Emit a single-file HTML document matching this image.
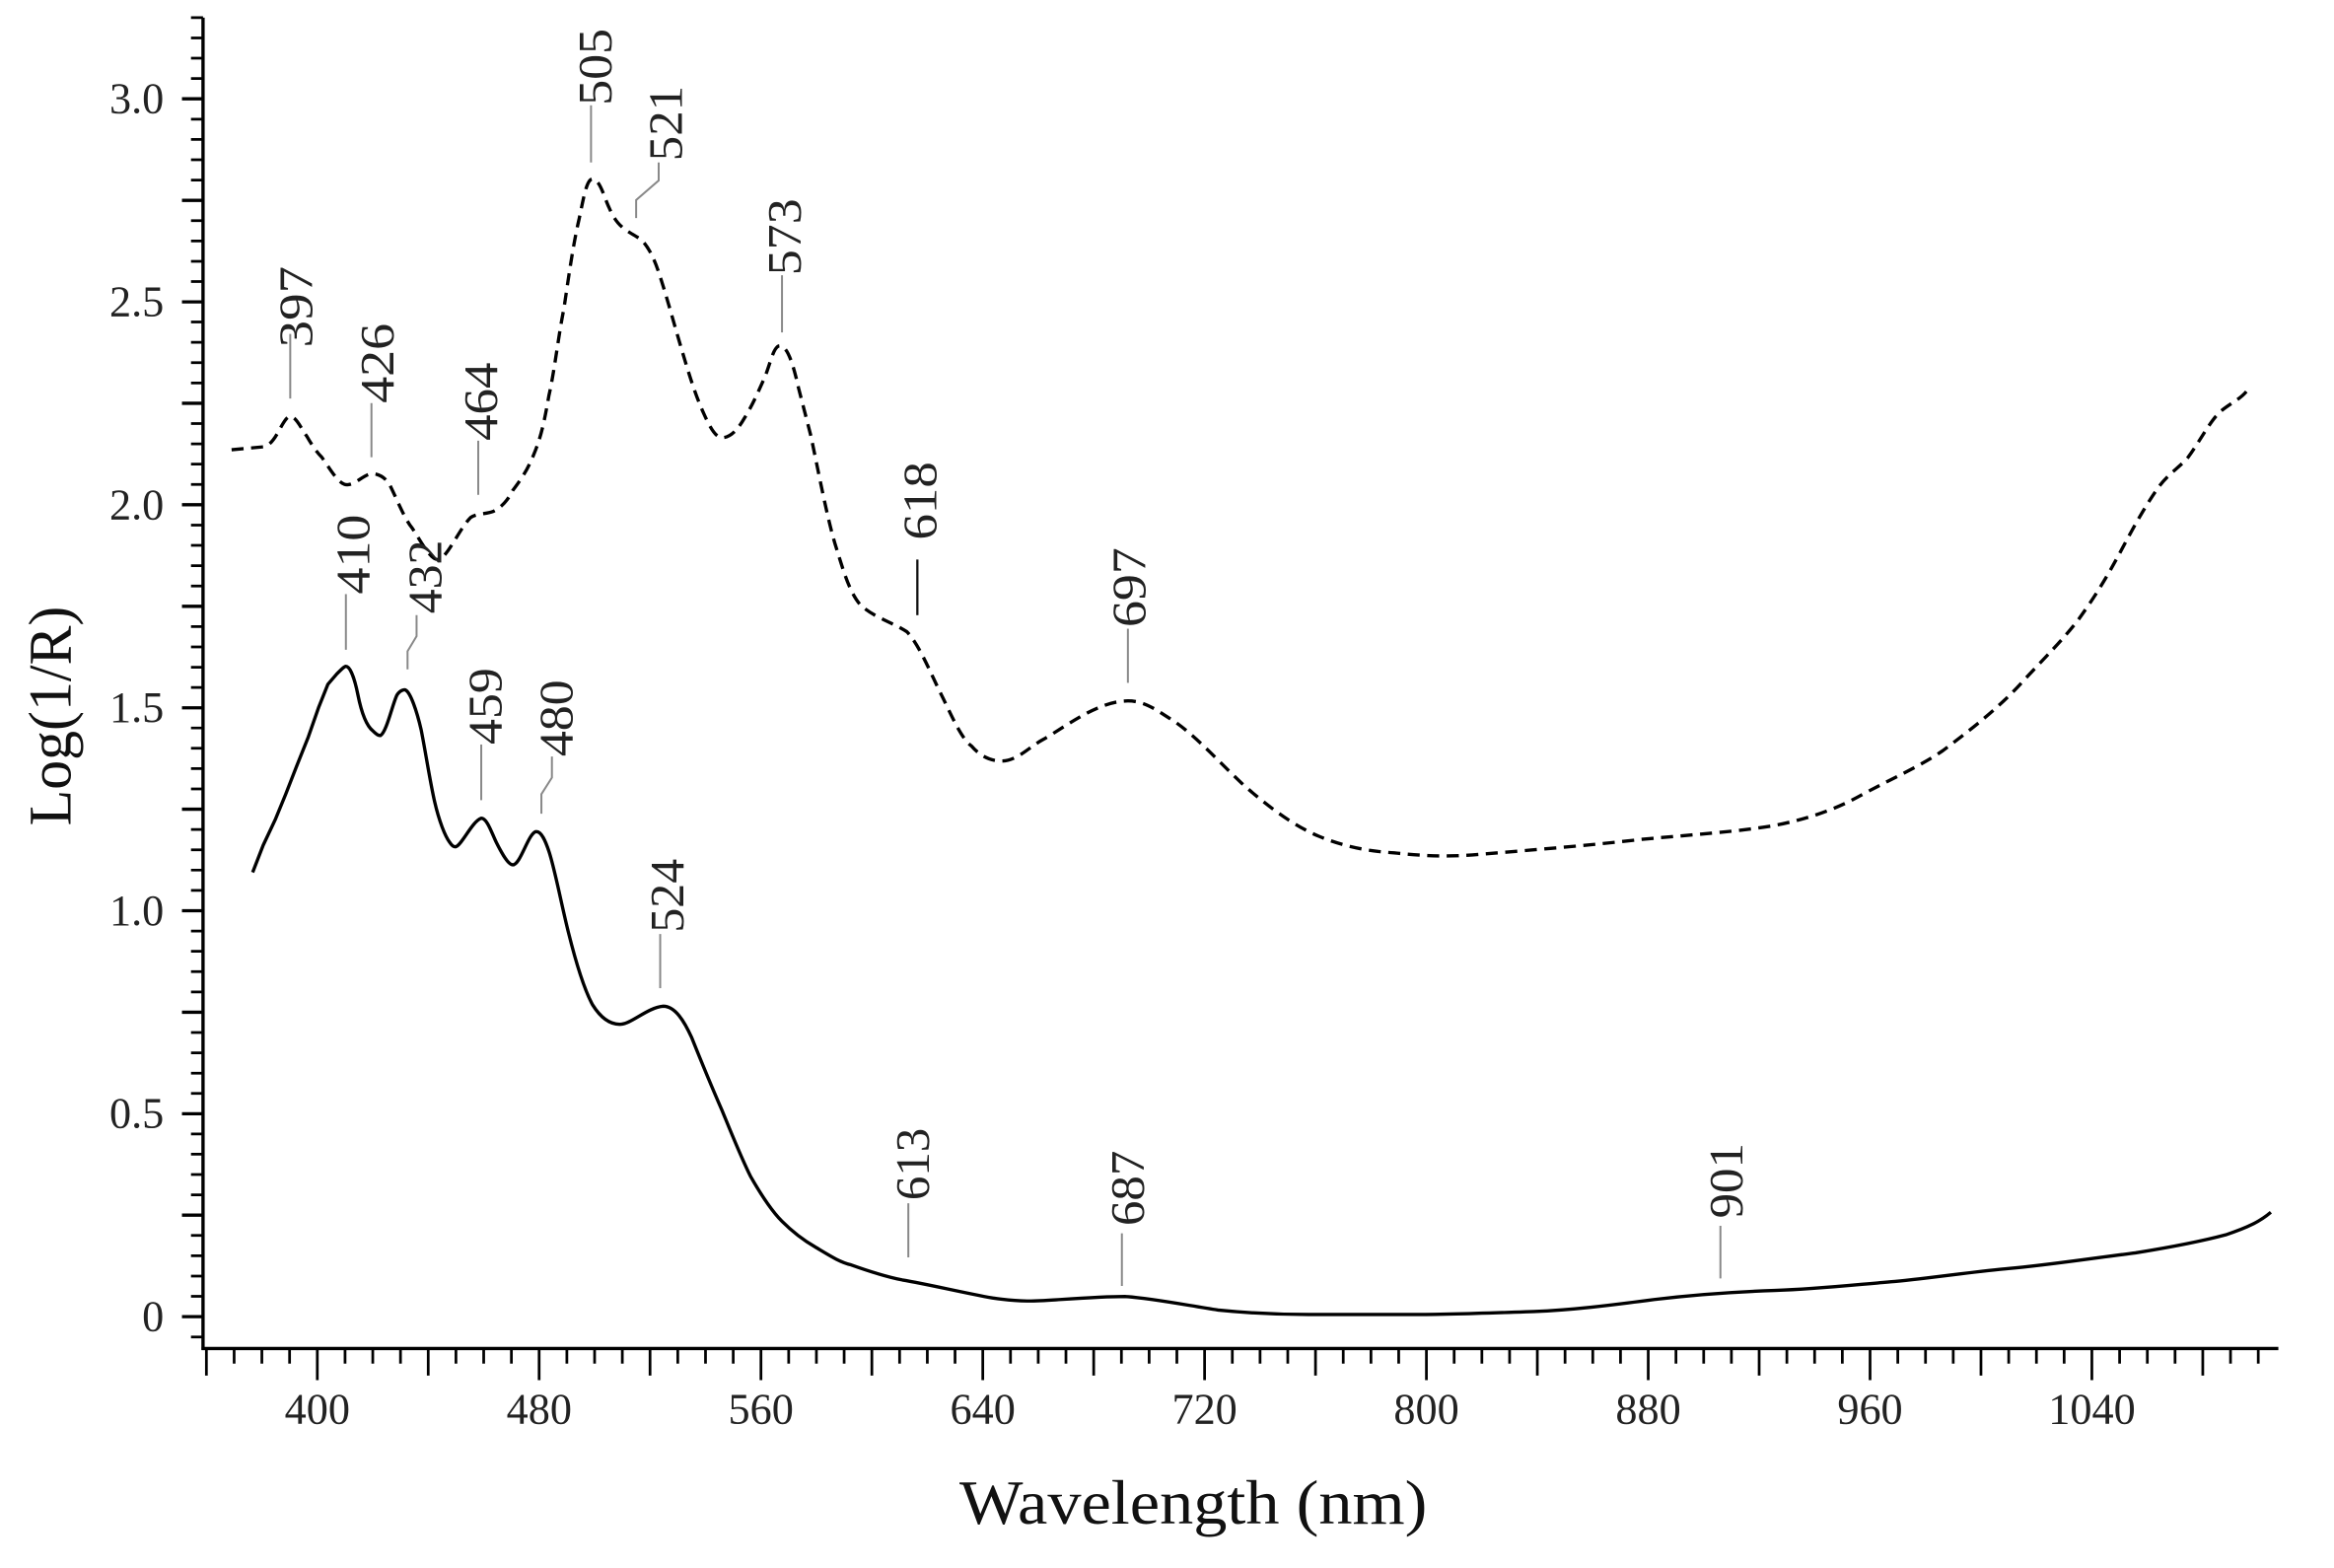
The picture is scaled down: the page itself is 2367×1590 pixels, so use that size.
<!DOCTYPE html>
<html><head><meta charset="utf-8"><style>html,body{margin:0;padding:0;background:#fff}svg{display:block}</style></head><body>
<svg width="2367" height="1590" viewBox="0 0 1552 1042.5" xmlns="http://www.w3.org/2000/svg" font-family="Liberation Serif, serif">
<rect width="1552" height="1042.5" fill="#fff"/>
<g stroke="#000" stroke-width="1.8" fill="none">
<path d="M137.25,896.6V914.6 M155.69,896.6V906.6 M174.13,896.6V906.6 M192.56,896.6V906.6 M211,896.6V917.6 M229.44,896.6V906.6 M247.88,896.6V906.6 M266.31,896.6V906.6 M284.75,896.6V914.6 M303.19,896.6V906.6 M321.63,896.6V906.6 M340.06,896.6V906.6 M358.5,896.6V917.6 M376.94,896.6V906.6 M395.38,896.6V906.6 M413.81,896.6V906.6 M432.25,896.6V914.6 M450.69,896.6V906.6 M469.13,896.6V906.6 M487.56,896.6V906.6 M506,896.6V917.6 M524.44,896.6V906.6 M542.88,896.6V906.6 M561.31,896.6V906.6 M579.75,896.6V914.6 M598.19,896.6V906.6 M616.63,896.6V906.6 M635.06,896.6V906.6 M653.5,896.6V917.6 M671.94,896.6V906.6 M690.38,896.6V906.6 M708.81,896.6V906.6 M727.25,896.6V914.6 M745.69,896.6V906.6 M764.13,896.6V906.6 M782.56,896.6V906.6 M801,896.6V917.6 M819.44,896.6V906.6 M837.88,896.6V906.6 M856.31,896.6V906.6 M874.75,896.6V914.6 M893.19,896.6V906.6 M911.63,896.6V906.6 M930.06,896.6V906.6 M948.5,896.6V917.6 M966.94,896.6V906.6 M985.38,896.6V906.6 M1003.81,896.6V906.6 M1022.25,896.6V914.6 M1040.69,896.6V906.6 M1059.13,896.6V906.6 M1077.56,896.6V906.6 M1096,896.6V917.6 M1114.44,896.6V906.6 M1132.88,896.6V906.6 M1151.31,896.6V906.6 M1169.75,896.6V914.6 M1188.19,896.6V906.6 M1206.63,896.6V906.6 M1225.06,896.6V906.6 M1243.5,896.6V917.6 M1261.94,896.6V906.6 M1280.38,896.6V906.6 M1298.81,896.6V906.6 M1317.25,896.6V914.6 M1335.69,896.6V906.6 M1354.13,896.6V906.6 M1372.56,896.6V906.6 M1391,896.6V917.6 M1409.44,896.6V906.6 M1427.88,896.6V906.6 M1446.31,896.6V906.6 M1464.75,896.6V914.6 M1483.19,896.6V906.6 M1501.63,896.6V906.6"/>
<path d="M127,888.9H135 M127,861.9H135 M127,848.4H135 M127,834.9H135 M127,821.4H135 M127,794.4H135 M127,780.9H135 M127,767.4H135 M127,753.9H135 M127,727H135 M127,713.5H135 M127,700H135 M127,686.5H135 M127,659.5H135 M127,646H135 M127,632.5H135 M127,619H135 M127,592H135 M127,578.5H135 M127,565H135 M127,551.5H135 M127,524.5H135 M127,511H135 M127,497.5H135 M127,484H135 M127,457.1H135 M127,443.6H135 M127,430.1H135 M127,416.6H135 M127,389.6H135 M127,376.1H135 M127,362.6H135 M127,349.1H135 M127,322.1H135 M127,308.6H135 M127,295.1H135 M127,281.6H135 M127,254.6H135 M127,241.1H135 M127,227.6H135 M127,214.1H135 M127,187.2H135 M127,173.7H135 M127,160.2H135 M127,146.7H135 M127,119.7H135 M127,106.2H135 M127,92.7H135 M127,79.2H135 M127,52.2H135 M127,38.7H135 M127,25.2H135 M127,11.7H135"/>
<path stroke-width="2.2" d="M121,875.4H135 M121,807.9H135 M121,740.5H135 M121,673H135 M121,605.5H135 M121,538H135 M121,470.6H135 M121,403.1H135 M121,335.6H135 M121,268.1H135 M121,200.7H135 M121,133.2H135 M121,65.7H135"/>
</g>
<line x1="135" y1="11.7" x2="135" y2="897.5" stroke="#000" stroke-width="2.2"/>
<line x1="134" y1="896.6" x2="1515" y2="896.6" stroke="#000" stroke-width="2.2"/>
<g font-size="29" text-anchor="end" dominant-baseline="central" fill="#222">
<text x="109" y="65.7">3.0</text><text x="109" y="200.7">2.5</text><text x="109" y="335.6">2.0</text><text x="109" y="470.5">1.5</text><text x="109" y="605.5">1.0</text><text x="109" y="740.4">0.5</text><text x="109" y="875.4">0</text>
</g>
<g font-size="29" text-anchor="middle" dominant-baseline="central" fill="#222">
<text x="211" y="937">400</text><text x="358.5" y="937">480</text><text x="506" y="937">560</text><text x="653.5" y="937">640</text><text x="801" y="937">720</text><text x="948.5" y="937">800</text><text x="1096" y="937">880</text><text x="1243.5" y="937">960</text><text x="1391" y="937">1040</text>
</g>
<text x="638" y="1013" font-size="42" textLength="311" lengthAdjust="spacingAndGlyphs" fill="#111">Wavelength (nm)</text>
<text transform="translate(47,549) rotate(-90)" font-size="40" textLength="146" lengthAdjust="spacingAndGlyphs" fill="#111">Log(1/R)</text>

<path fill="none" stroke="#000" stroke-width="2.2" stroke-dasharray="8,5" stroke-linejoin="round" d="M154,299 L176,297 C184,294 187,280 192,277 C197,276 200,285 204,290 C208,297 211,301 214,304 C219,311 224,320 229,322 C236,324 242,314 249,315 C254,316 256,318 259,322 C264,332 269,345 274,351 C280,360 286,372 291,372 C297,372 305,352 313,344 C318,341 323,342 328,340 C334,337 338,332 341,326 C347,318 351,312 355,302 C360,290 362,280 365,263 C369,245 371,225 375,205 C378,185 381,163 385,146 C388,132 390,119 394,119 C399,119 402,132 405,138 C408,145 411,149 415,152 C420,156 424,157 428,161 C432,166 435,172 438,181 C443,196 447,211 452,228 C457,245 462,262 468,275 C472,284 476,291 480,291 C486,291 491,285 495,278 C500,270 504,261 508,252 C512,243 514,231 518,230 C523,229 527,240 531,258 L539,289 C544,312 550,345 556,364 C561,380 565,394 572,402 C580,410 594,414 603,420 C611,428 619,448 626,462 C632,474 639,491 646,496 C652,503 659,506 666,506 C676,506 684,497 693,492 C709,483 730,466 750,466 C762,466 770,473 780,479 C795,489 812,508 827,522 C843,536 860,549 877,556 C894,563 910,566 927,567 C945,569 963,570 984,568 C1020,565 1058,562 1092,558 C1125,555 1155,553 1179,549 C1200,545 1219,539 1237,529 C1257,518 1276,510 1292,499 C1312,484 1331,469 1346,452 C1360,437 1372,425 1382,412 C1395,394 1403,380 1411,365 C1420,348 1428,334 1436,323 C1443,314 1449,311 1455,304 C1463,293 1469,281 1476,274 C1483,268 1489,266 1494,260"/>

<path fill="none" stroke="#000" stroke-width="2.2" stroke-linejoin="round" d="M168,580 L175,562 L183,545 L190,528 L197,510 L205,490 L212,470 L218,455 L224,448 C227,445 229,443 230,443 C233,443 236,452 238,462 C240,472 243,482 248,486 C251,489 252,489 253,489 C257,487 261,468 264,462 C266,459 269,458 270,459 C273,461 277,472 280,485 C283,500 286,520 289,533 C292,546 296,556 299,560 C301,563 302,563 303,563 C307,562 314,546 320,544 C324,544 327,554 330,560 C334,568 338,575 341,575 C346,575 351,555 356,553 C360,552 363,560 365,566 C369,578 373,600 378,620 C383,640 388,657 394,668 C399,676 405,681 412,681 C420,681 430,670 441,669 C449,669 455,679 460,690 C466,705 473,722 480,738 C487,755 493,770 499,782 C507,796 514,806 520,812 C528,820 535,825 542,829 C552,835 558,839 566,841 C580,846 590,849 600,851 C618,854 638,859 660,863 C680,866 690,865 705,864 C720,863 735,862 748,862 C765,863 790,868 810,871 C830,873 850,874 870,874 C890,874 915,874 940,874 C965,874 990,873 1020,872 C1045,871 1070,868 1100,864 C1125,861 1150,859 1180,858 C1210,857 1235,854 1260,852 C1290,849 1315,845 1340,843 C1370,840 1395,836 1420,833 C1445,829 1465,825 1480,821 C1495,816 1503,812 1510,806"/>

<g stroke="#888" stroke-width="1.3" fill="none">
<line x1="193" y1="222" x2="193" y2="265"/>
<line x1="247" y1="268" x2="247" y2="304"/>
<line x1="318" y1="293" x2="318" y2="329"/>
<line x1="393" y1="70" x2="393" y2="108"/>
<polyline points="438,108 438,120 423,133 423,145"/>
<line x1="520" y1="183" x2="520" y2="221"/>
<line x1="750" y1="418" x2="750" y2="454"/>
<line x1="230" y1="395" x2="230" y2="432"/>
<polyline points="277,409 277,423 271,433 271,445"/>
<line x1="320" y1="495" x2="320" y2="532"/>
<polyline points="367,503 367,517 360,528 360,541"/>
<line x1="439" y1="621" x2="439" y2="657"/>
<line x1="604" y1="800" x2="604" y2="836"/>
<line x1="746" y1="820" x2="746" y2="855"/>
<line x1="1144" y1="815" x2="1144" y2="850"/>
</g>
<line x1="610" y1="372" x2="610" y2="409" stroke="#111" stroke-width="1.5"/>
<g font-size="32" dominant-baseline="central" fill="#222">
<text transform="translate(197,231) rotate(-90)" textLength="54" lengthAdjust="spacingAndGlyphs">397</text>
<text transform="translate(251,268) rotate(-90)" textLength="53" lengthAdjust="spacingAndGlyphs">426</text>
<text transform="translate(320,293) rotate(-90)" textLength="52" lengthAdjust="spacingAndGlyphs">464</text>
<text transform="translate(396,70) rotate(-90)" textLength="51" lengthAdjust="spacingAndGlyphs">505</text>
<text transform="translate(443,107) rotate(-90)" textLength="50" lengthAdjust="spacingAndGlyphs">521</text>
<text transform="translate(522,183) rotate(-90)" textLength="51" lengthAdjust="spacingAndGlyphs">573</text>
<text transform="translate(612,359) rotate(-90)" textLength="52" lengthAdjust="spacingAndGlyphs">618</text>
<text transform="translate(751,417) rotate(-90)" textLength="53" lengthAdjust="spacingAndGlyphs">697</text>
<text transform="translate(235,395) rotate(-90)" textLength="53" lengthAdjust="spacingAndGlyphs">410</text>
<text transform="translate(283,408) rotate(-90)" textLength="49" lengthAdjust="spacingAndGlyphs">432</text>
<text transform="translate(323,495) rotate(-90)" textLength="51" lengthAdjust="spacingAndGlyphs">459</text>
<text transform="translate(370,503) rotate(-90)" textLength="51" lengthAdjust="spacingAndGlyphs">480</text>
<text transform="translate(444,620) rotate(-90)" textLength="49" lengthAdjust="spacingAndGlyphs">524</text>
<text transform="translate(607,798) rotate(-90)" textLength="48" lengthAdjust="spacingAndGlyphs">613</text>
<text transform="translate(750,815) rotate(-90)" textLength="50" lengthAdjust="spacingAndGlyphs">687</text>
<text transform="translate(1148,810) rotate(-90)" textLength="50" lengthAdjust="spacingAndGlyphs">901</text>
</g>
</svg>
</body></html>
